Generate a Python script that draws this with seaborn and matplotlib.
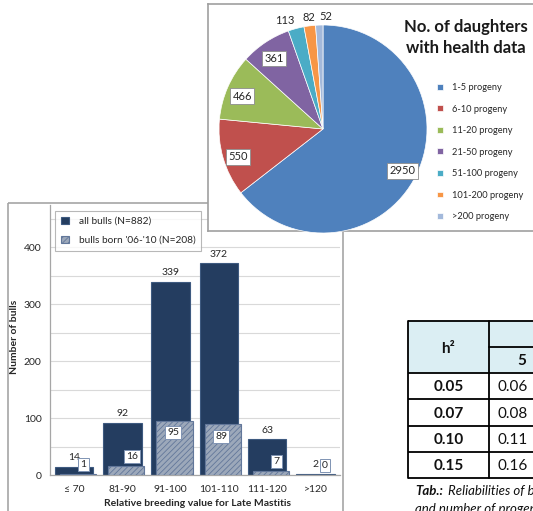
import numpy as np
import pandas as pd
import matplotlib
matplotlib.use("Agg")
import matplotlib.pyplot as plt
import seaborn as sns
from matplotlib.patches import Rectangle
from matplotlib.ticker import MultipleLocator, FixedLocator

# ---------------- data ----------------
bv_classes = ["≤ 70", "81-90", "91-100", "101-110", "111-120", ">120"]
all_bulls = [14, 92, 339, 372, 63, 2]
young_bulls = [1, 16, 95, 89, 7, 0]
series_names = ["all bulls (N=882)", "bulls born '06-'10 (N=208)"]
bar_xlabel = "Relative breeding value for Late Mastitis"
bar_ylabel = "Number of bulls"

progeny_classes = ["1-5 progeny", "6-10 progeny", "11-20 progeny", "21-50 progeny",
                   "51-100 progeny", "101-200 progeny", ">200 progeny"]
daughters = [2950, 550, 466, 361, 113, 82, 52]
pie_title = "No. of daughters\nwith health data"

table_h2 = ["0.05", "0.07", "0.10", "0.15"]
table_col5 = ["0.06", "0.08", "0.11", "0.16"]
table_head = "h²"
table_sub = "5"
caption_bold = "Tab.:"
caption_rest = "Reliabilities of breeding values depending on heritability"
caption_line2 = "and number of progeny"

# ---------------- style ----------------
W, H = 533, 511
sns.set_style("white")
plt.rcParams['font.family'] = ['Lato', 'DejaVu Sans']
plt.rcParams['hatch.linewidth'] = 0.6

dark = '#243D60'
light = '#9CA8BA'
light_edge = '#62779A'
pie_colors = ['#4F81BD', '#C0504D', '#9BBB59', '#8064A2', '#4BACC6', '#F79646', '#A3B9DB']
txt = '#262626'


def frect(x0, y0, x1, y1):
    return [x0 / W, 1 - y1 / H, (x1 - x0) / W, (y1 - y0) / H]


fig = plt.figure(figsize=(W / 100, H / 100), dpi=100)
fig.patch.set_facecolor('white')

# background overlay (panel border, table)
bg = fig.add_axes([0, 0, 1, 1], zorder=0)
bg.set_xlim(0, W)
bg.set_ylim(H, 0)
bg.axis('off')
bg.add_patch(Rectangle((8, 203), 335, 330, fill=False, ec='#A6A6A6', lw=1.2))

# ---------------- bar chart ----------------
ax = fig.add_axes(frect(50, 205, 339.5, 475), zorder=1)
ax.set_facecolor('none')
df = pd.DataFrame({"cls": bv_classes, "all": all_bulls, "young": young_bulls})
sns.barplot(data=df, x="cls", y="all", color=dark, saturation=1, width=0.8,
            edgecolor='#3E5A80', linewidth=0.8, ax=ax, zorder=2)
n0 = len(ax.patches)
sns.barplot(data=df, x="cls", y="young", color=light, saturation=1, width=0.755,
            edgecolor=light_edge, linewidth=0.8, hatch='//////', ax=ax, zorder=3)
for p in ax.patches[n0:]:
    p.set_x(p.get_x() + 0.08)

ax.set_ylim(0, 474)
ax.set_xlim(-0.5, 5.5)
ax.yaxis.set_major_locator(MultipleLocator(100))
ax.yaxis.set_minor_locator(MultipleLocator(50))
ax.yaxis.grid(True, which='both', color='#D9D9D9', lw=0.8)
ax.set_axisbelow(True)
for s in ['top', 'right']:
    ax.spines[s].set_visible(False)
for s in ['left', 'bottom']:
    ax.spines[s].set_color('#A6A6A6')
    ax.spines[s].set_linewidth(0.9)
ax.tick_params(axis='y', which='major', length=3, color='#A6A6A6', labelsize=7.5, labelcolor=txt, pad=3)
ax.tick_params(axis='y', which='minor', length=0)
ax.xaxis.set_minor_locator(FixedLocator(np.arange(-0.5, 6, 1)))
ax.tick_params(axis='x', which='major', length=0, labelsize=7.5, labelcolor=txt, pad=7)
ax.tick_params(axis='x', which='minor', length=3, color='#A6A6A6')
ax.set_xlabel("")
ax.set_ylabel("")

for i, v in enumerate(all_bulls):
    ax.annotate(str(v), (i, v), xytext=(0, 6.5), textcoords='offset points',
                ha='center', va='center', fontsize=7.5, color=txt, zorder=5)
for i, v in enumerate(young_bulls):
    inside = v > 50
    ax.annotate(str(v), (i + 0.08, v), xytext=(-1, -8.5) if inside else (4, 7),
                textcoords='offset points', ha='center', va='center', fontsize=7.5, color=txt,
                bbox=dict(boxstyle='square,pad=0.2', fc='white', ec='#7F93B3', lw=0.7), zorder=6)

handles = [Rectangle((0, 0), 1, 1, fc=dark, ec='#3E5A80', lw=0.8),
           Rectangle((0, 0), 1, 1, fc=light, ec=light_edge, lw=0.8, hatch='//////')]
leg = ax.legend(handles, series_names, loc='upper left', bbox_to_anchor=(55 / W, 1 - 211 / H),
                bbox_transform=fig.transFigure, fontsize=7.3, frameon=True, fancybox=False,
                handlelength=0.8, handleheight=0.8, handletextpad=1.0, labelspacing=0.95,
                borderpad=0.55, borderaxespad=0)
leg.get_frame().set_edgecolor('#A6A6A6')
leg.get_frame().set_linewidth(0.8)
for t in leg.get_texts():
    t.set_color(txt)

fig.text(15 / W, 1 - 337 / H, bar_ylabel, rotation=90, ha='center', va='center',
         fontsize=7.5, fontweight='bold', color=txt)
fig.text(197 / W, 1 - 503 / H, bar_xlabel, ha='center', va='center',
         fontsize=7.5, fontweight='bold', color=txt)

# ---------------- pie panel ----------------
pp = fig.add_axes(frect(208, 4, 545, 231), zorder=2)
pp.set_facecolor('white')
pp.set_xticks([])
pp.set_yticks([])
for s in pp.spines.values():
    s.set_color('#A0A0A0')
    s.set_linewidth(1.2)

pa = fig.add_axes(frect(219, 25, 427, 233), zorder=3)
wedges, _ = pa.pie(daughters, colors=pie_colors, startangle=90, counterclock=False,
                   wedgeprops=dict(edgecolor='white', linewidth=0.5))
pa.set_xlim(-1, 1)
pa.set_ylim(-1, 1)
pa.set_aspect('equal')
pa.axis('off')

small_ha = ['right', 'center', 'left']
k = 0
for w, v in zip(wedges, daughters):
    th = np.deg2rad((w.theta1 + w.theta2) / 2)
    if v > 300:
        r = 0.85
        pa.text(r * np.cos(th), r * np.sin(th) - 0.03, str(v), ha='center', va='center', fontsize=8,
                color=txt, bbox=dict(boxstyle='square,pad=0.22', fc='white', ec='#8C8C8C', lw=0.6))
    else:
        r = 1.08
        pa.text(r * np.cos(th), r * np.sin(th), str(v), ha=small_ha[k], va='center', fontsize=8,
                color=txt, clip_on=False)
        k += 1

fig.text(466 / W, 1 - 37.5 / H, pie_title, ha='center', va='center', fontsize=12,
         fontweight='bold', color='#1A1A1A', linespacing=1.4, zorder=10)

pleg = pa.legend(wedges, progeny_classes, loc='upper left', bbox_to_anchor=(437 / W, 1 - 83 / H),
                 bbox_transform=fig.transFigure, frameon=False, fontsize=6.7,
                 handlelength=0.6, handleheight=0.6, handletextpad=1.0, labelspacing=1.35,
                 borderpad=0, borderaxespad=0)
for t in pleg.get_texts():
    t.set_color(txt)

# ---------------- table ----------------
bg.add_patch(Rectangle((408, 321), 140, 52, fc='#DBEEF3', ec='none'))
lw = 1.3
rows_y = [321, 373, 399, 426, 452, 478]
for y in rows_y:
    bg.plot([408, 545], [y, y], color='black', lw=lw, solid_capstyle='butt')
bg.plot([489, 545], [347, 347], color='black', lw=lw)
bg.plot([408, 408], [321, 478], color='black', lw=lw)
bg.plot([489, 489], [321, 478], color='black', lw=lw)
bg.text(448.5, 349, table_head, ha='center', va='center', fontsize=11, fontweight='bold', color='#111111')
bg.text(522, 361, table_sub, ha='center', va='center', fontsize=11, fontweight='bold', color='#111111')
for j, (a, b) in enumerate(zip(table_h2, table_col5)):
    yc = (rows_y[j + 1] + rows_y[j + 2]) / 2 + 1
    bg.text(448.5, yc, a, ha='center', va='center', fontsize=11, fontweight='bold', color='#111111')
    bg.text(497, yc, b, ha='left', va='center', fontsize=11, color='#111111')

bg.text(415, 491, caption_bold, ha='left', va='center', fontsize=9.5, fontweight='bold',
        fontstyle='italic', color='#111111')
bg.text(448, 491, caption_rest, ha='left', va='center', fontsize=9.5,
        fontstyle='italic', color='#111111')
bg.text(415, 509, caption_line2, ha='left', va='center', fontsize=9.5,
        fontstyle='italic', color='#111111')

fig.savefig("out.png", dpi=100, facecolor='white')
